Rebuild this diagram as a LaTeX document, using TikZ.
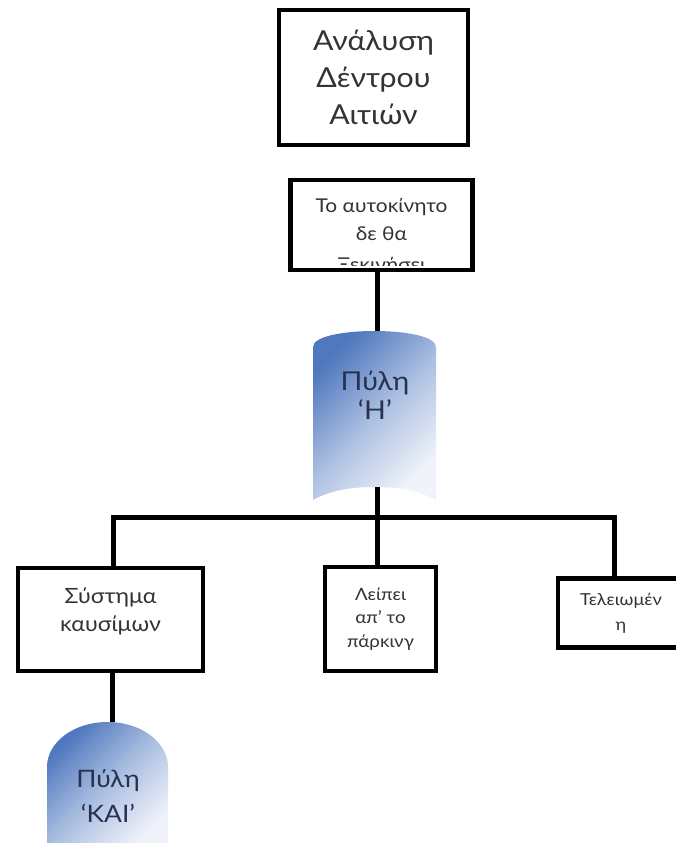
\documentclass[tikz,border=0pt]{standalone}
\usepackage{fontspec}
\setmainfont{Lato}[FakeStretch=1.1]
\begin{document}
\begin{tikzpicture}[x=1pt,y=-1pt,
  box/.style={draw=black, line width=4.5pt, fill=white, inner sep=0pt},
  txt/.style={text=black!80, align=center, inner sep=0pt},
  conn/.style={draw=black, line width=5pt},
  gatefill/.style={top color=gblue, bottom color=glight, middle color=gmid, shading angle=45},
  gatetxt/.style={text=gtext, align=center, inner sep=0pt}]
\definecolor{gblue}{RGB}{80,120,190}
\definecolor{gmid}{RGB}{170,190,225}
\definecolor{glight}{RGB}{240,243,250}
\definecolor{gtext}{RGB}{40,50,80}
\useasboundingbox (0,0) rectangle (675,843);

% top title box
\node[box, minimum width=189pt, minimum height=135pt, txt, font=\fontsize{27.5}{37}\selectfont] (title) at (373.5,77.5) {Ανάλυση\\Δέντρου\\Αιτιών};

% second box with clipped text
\node[box, minimum width=182pt, minimum height=90pt] (car) at (381.5,225) {};
\begin{scope}
  \clip (292,181) rectangle (471,265);
  \node[txt, font=\fontsize{19}{28}\selectfont, anchor=base] (cartxtA) at (381.5,212) {Το αυτοκίνητο};
  \node[txt, font=\fontsize{19}{28}\selectfont, anchor=base] (cartxtB) at (381.5,240) {δε θα};
  \node[txt, font=\fontsize{19}{28}\selectfont, anchor=base] (cartxtC) at (381.5,271) {Ξεκινήσει};
\end{scope}

% OR gate
\coordinate (ortop) at (377,331);
\coordinate (orbot) at (377,487);
\draw[conn] (car.south -| ortop) -- (ortop);
\shade[gatefill] (313,500) -- (313,347)
  .. controls (313,336) and (345,331) .. (374.5,331)
  .. controls (404,331) and (436,336) .. (436,347)
  -- (436,500)
  .. controls (420,491) and (400,487) .. (374.5,487)
  .. controls (349,487) and (329,491) .. (313,500) -- cycle;
\node[gatetxt, font=\fontsize{26}{29}\selectfont] (orgate) at (375,395) {Πύλη\\‘Η’};

% distribution bar
\coordinate (bar) at (377,517);
\coordinate (barL) at (113,517);
\coordinate (barR) at (614,517);

% lower boxes
\node[box, minimum width=185pt, minimum height=103pt] (fuel) at (110.5,619.5) {};
\node[txt, font=\fontsize{21}{28}\selectfont] (fueltxt) at (110.5,611) {Σύστημα\\καυσίμων};
\node[box, minimum width=111pt, minimum height=104pt, txt, font=\fontsize{17}{23.5}\selectfont] (park) at (380.5,619) {Λείπει\\απ’ το\\πάρκινγ};
\node[box, minimum width=126pt, minimum height=69pt, txt, font=\fontsize{16.5}{25}\selectfont] (fin) at (621,613) {Τελειωμέν\\η};

\draw[conn] (orbot) -- (bar);
\draw[conn, line cap=rect] (fuel.north -| barL) -- (barL) -- (barR) -- (fin.north -| barR);
\draw[conn] (bar) -- (park.north -| bar);

% AND gate
\coordinate (andtop) at (112,722);
\draw[conn] (fuel.south -| andtop) -- (andtop);
\shade[gatefill] (47,850) -- (47,767)
  .. controls (47,742) and (74,722) .. (107.5,722)
  .. controls (141,722) and (168,742) .. (168,767)
  -- (168,850) -- cycle;
\node[gatetxt, font=\fontsize{24}{35}\selectfont] (andgate) at (108,796) {Πύλη\\‘ΚΑΙ’};
\end{tikzpicture}
\end{document}
